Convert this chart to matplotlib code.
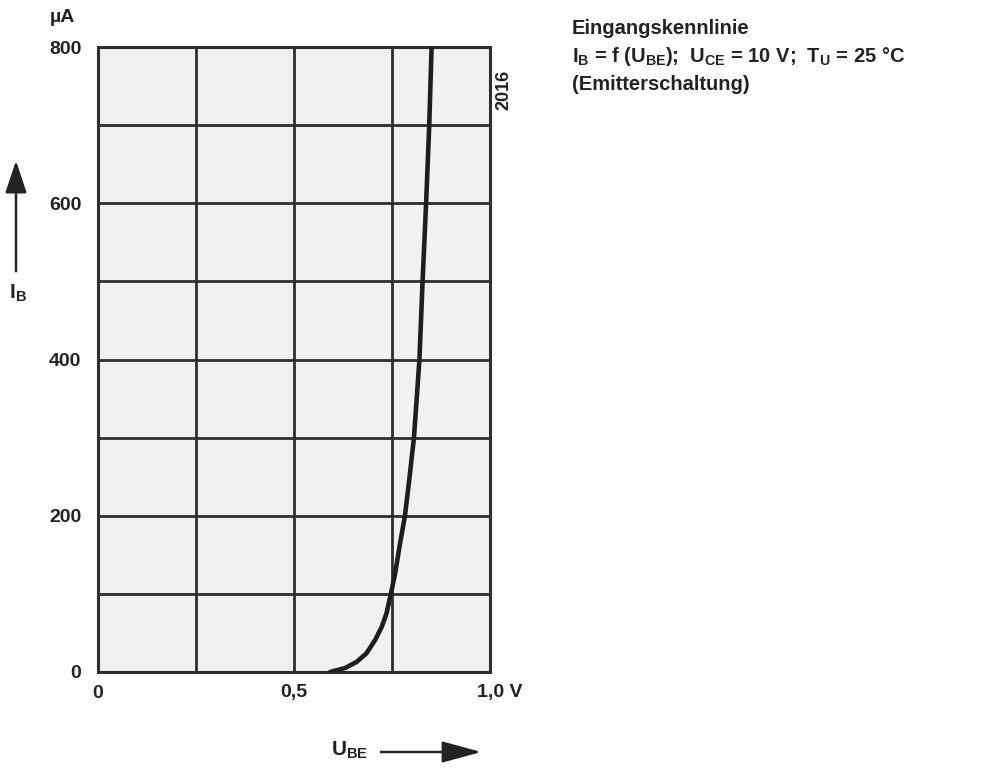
import matplotlib
matplotlib.use("Agg")
import matplotlib.pyplot as plt
from matplotlib.transforms import ScaledTranslation

# Data
u_be = [0.592, 0.630, 0.660, 0.685, 0.707, 0.724, 0.736, 0.747, 0.758, 0.769,
        0.783, 0.794, 0.806, 0.820, 0.828, 0.837, 0.845, 0.851]
i_b = [0, 5, 13, 24, 41, 58, 75, 100, 126, 160,
       200, 246, 300, 400, 500, 600, 700, 800]
x_ticks = [0, 0.5, 1.0]
x_ticklabels = ["0", "0,5", "1,0 V"]
y_ticks = [0, 200, 400, 600, 800]
y_ticklabels = ["0", "200", "400", "600", "800"]

plt.rcParams['font.family'] = ['Liberation Sans', 'DejaVu Sans']
fig = plt.figure(figsize=(9.81, 7.72), dpi=100)
W, H = 981, 772
ax = fig.add_axes([98 / W, (H - 672) / H, 392 / W, 625 / H])
ax.set_facecolor('#f1f1f1')
ax.set_xlim(0, 1.0)
ax.set_ylim(0, 800)

gc = '#2e2e2e'
for xv in [0.25, 0.5, 0.75]:
    ax.axvline(xv, color=gc, lw=2.0, zorder=1)
for yv in range(100, 800, 100):
    ax.axhline(yv, color=gc, lw=2.0, zorder=1)
for s in ax.spines.values():
    s.set_color(gc)
    s.set_linewidth(2.2)

ax.plot(u_be, i_b, color='#1e1e1e', lw=3.3, solid_capstyle='round',
        solid_joinstyle='round', zorder=3)

ax.set_xticks(x_ticks)
ax.set_xticklabels(x_ticklabels, fontsize=14, fontweight='bold', color='#222')
ax.set_yticks(y_ticks)
ax.set_yticklabels(y_ticklabels, fontsize=14, fontweight='bold', color='#222')
ax.tick_params(axis='x', length=0, pad=9)
ax.tick_params(axis='y', length=0, pad=12)
xl = ax.get_xticklabels()
xl[0].set_horizontalalignment('center')
xl[1].set_horizontalalignment('center')
xl[2].set_horizontalalignment('left')
xl[2].set_transform(xl[2].get_transform() + ScaledTranslation(-13 / 100, 0, fig.dpi_scale_trans))

# unit above y-axis
fig.text(62 / W, 1 - 18 / H, "µA", fontsize=14, fontweight='bold', color='#222', ha='center', va='center')
# I_B label and arrow
fig.text(18 / W, 1 - 293 / H, r"I$_\mathregular{B}$", fontsize=15, fontweight='bold', color='#222', ha='center', va='center')
fig.add_artist(matplotlib.patches.FancyArrowPatch((16 / W, 1 - 274 / H), (16 / W, 1 - 158 / H),
               transform=fig.transFigure, arrowstyle='-|>,head_length=0.9,head_width=0.3',
               mutation_scale=22, color='#222', lw=1.8))
# U_BE label and arrow
fig.text(350 / W, 1 - 750 / H, r"U$_\mathregular{BE}$", fontsize=15, fontweight='bold', color='#222', ha='center', va='center')
fig.add_artist(matplotlib.patches.FancyArrowPatch((378 / W, 1 - 752 / H), (484 / W, 1 - 752 / H),
               transform=fig.transFigure, arrowstyle='-|>,head_length=1.1,head_width=0.3',
               mutation_scale=22, color='#222', lw=1.8))
# side number
fig.text(504 / W, 1 - 90 / H, "2016", fontsize=13, fontweight='bold', color='#222', rotation=90, ha='center', va='center')

# title block
tk = dict(fontsize=14.5, fontweight='bold', color='#222', ha='left', va='center')
fig.text(572 / W, 1 - 28 / H, "Eingangskennlinie", **tk)
fig.text(572 / W, 1 - 57 / H,
         r"I$_\mathregular{B}$ = f (U$_\mathregular{BE}$);  U$_\mathregular{CE}$ = 10 V;  T$_\mathregular{U}$ = 25 °C",
         **tk)
fig.text(572 / W, 1 - 84 / H, "(Emitterschaltung)", **tk)

fig.savefig("out.png", dpi=100, facecolor='white')
